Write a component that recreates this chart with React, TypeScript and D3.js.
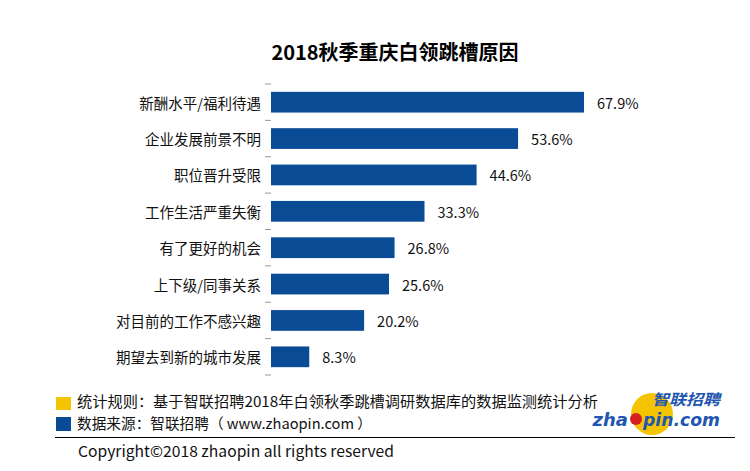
import React from "react";
import * as d3 from "d3";

const title = "2018秋季重庆白领跳槽原因";
const categories = [
  "新酬水平/福利待遇",
  "企业发展前景不明",
  "职位晋升受限",
  "工作生活严重失衡",
  "有了更好的机会",
  "上下级/同事关系",
  "对目前的工作不感兴趣",
  "期望去到新的城市发展",
];
const values = [67.9, 53.6, 44.6, 33.3, 26.8, 25.6, 20.2, 8.3];
const noteRule = "统计规则：基于智联招聘2018年白领秋季跳槽调研数据库的数据监测统计分析";
const noteSource = "数据来源：智联招聘（ www.zhaopin.com ）";
const copyright = "Copyright©2018 zhaopin all rights reserved";

const FONT = "'Noto Sans CJK SC', 'Microsoft YaHei', sans-serif";

export default function App() {
  const W = 750;
  const H = 471;
  const x = d3.scaleLinear().domain([0, 67.9]).range([271, 584]);
  const y = d3
    .scaleBand<string>()
    .domain(categories)
    .range([84, 375])
    .paddingInner(0.43)
    .paddingOuter(0.215);
  const step = y.step();
  const y0 = 84;
  const boundaries = d3.range(categories.length + 1).map((i) => y0 + i * step);

  return (
    <svg
      width={W}
      height={H}
      style={{ position: "absolute", left: 0, top: 0, background: "#fff" }}
      fontFamily={FONT}
    >
      <rect width={W} height={H} fill="#fff" />
      <text
        x={395}
        y={51}
        textAnchor="middle"
        dominantBaseline="central"
        fontSize={20}
        fontWeight="bold"
        fill="#000"
      >
        {title}
      </text>
      {boundaries.map((b, i) => (
        <line key={"t" + i} x1={265} x2={271} y1={b} y2={b} stroke="#999" strokeWidth={1} />
      ))}
      {categories.map((c, i) => (
        <g key={c}>
          <rect
            x={x(0)}
            y={y(c)!}
            width={x(values[i]) - x(0)}
            height={y.bandwidth()}
            fill="#0a4b96"
          />
          <text
            x={261}
            y={y(c)! + y.bandwidth() / 2}
            textAnchor="end"
            dominantBaseline="central"
            fontSize={14.5}
            fill="#111"
          >
            {c}
          </text>
          <text
            x={x(values[i]) + 13}
            y={y(c)! + y.bandwidth() / 2}
            dominantBaseline="central"
            fontSize={14.5}
            fill="#111"
          >
            {values[i].toFixed(1) + "%"}
          </text>
        </g>
      ))}
      <rect x={56} y={397} width={15} height={13} fill="#f5c400" />
      <rect x={56} y={417} width={15} height={14} fill="#0a4b96" />
      <text
        x={77}
        y={400}
        dominantBaseline="central"
        fontSize={14.5}
        fill="#111"
        textLength={521}
        lengthAdjust="spacingAndGlyphs"
      >
        {noteRule}
      </text>
      <text
        x={77}
        y={422}
        dominantBaseline="central"
        fontSize={14.5}
        fill="#111"
        textLength={295}
        lengthAdjust="spacingAndGlyphs"
      >
        {noteSource}
      </text>
      <line x1={55} x2={735} y1={437.5} y2={437.5} stroke="#000" strokeWidth={1} />
      <text
        x={78}
        y={450}
        dominantBaseline="central"
        fontSize={15}
        fill="#111"
        textLength={316}
        lengthAdjust="spacingAndGlyphs"
      >
        {copyright}
      </text>
      <g>
        <circle cx={652} cy={414} r={21} fill="#f5c400" />
        <text
          x={652}
          y={398}
          dominantBaseline="central"
          fontSize={15}
          fontWeight="bold"
          fontStyle="italic"
          fill="#1f57b0"
          textLength={68}
          lengthAdjust="spacingAndGlyphs"
        >
          智联招聘
        </text>
        <text
          x={628}
          y={419}
          dominantBaseline="central"
          textAnchor="end"
          fontSize={18}
          fontWeight="bold"
          fontStyle="italic"
          fill="#1f57b0"
          fontFamily="'DejaVu Sans', sans-serif"
        >
          zha
        </text>
        <circle cx={636} cy={419} r={6} fill="#d62020" />
        <text
          x={643}
          y={419}
          dominantBaseline="central"
          fontSize={18}
          fontWeight="bold"
          fontStyle="italic"
          fill="#1f57b0"
          fontFamily="'DejaVu Sans', sans-serif"
          textLength={77}
          lengthAdjust="spacingAndGlyphs"
        >
          pin.com
        </text>
      </g>
    </svg>
  );
}
